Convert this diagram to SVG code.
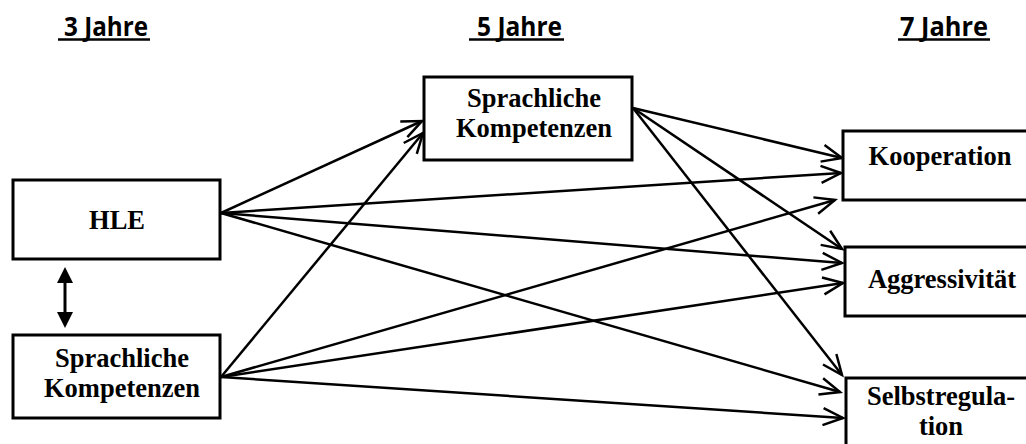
<svg xmlns="http://www.w3.org/2000/svg" width="1026" height="444" viewBox="0 0 1026 444">
  <defs>
    <style>
      .box { fill: #fff; stroke: #000; stroke-width: 3; }
      .lbl { font-family: "Liberation Serif", "Times New Roman", serif; font-weight: bold; font-size: 26.5px; fill: #000; text-anchor: middle; }
      .hdr { font-family: "Open Sans", "Liberation Sans", sans-serif; font-weight: bold; font-size: 27px; fill: #000; }
      .ul { stroke: #000; stroke-width: 2.5; }
      .edge { stroke: #000; stroke-width: 2.5; fill: none; marker-end: url(#vhead); }
    </style>
    <marker id="vhead" viewBox="-24 -12 28 24" markerWidth="28" markerHeight="24" refX="0" refY="0" orient="auto" markerUnits="userSpaceOnUse">
      <path d="M-20,-8.5 L0,0 L-20,8.5" fill="none" stroke="#000" stroke-width="2.5" stroke-linejoin="miter"/>
    </marker>
  </defs>
  <rect width="1026" height="444" fill="#fff"/>

  <!-- time-point headings -->
  <g id="headings">
    <text class="hdr" x="64" y="36" textLength="84" lengthAdjust="spacingAndGlyphs">3 Jahre</text>
    <line class="ul" x1="58" y1="39.5" x2="150" y2="39.5"/>
    <text class="hdr" x="477" y="36" textLength="85" lengthAdjust="spacingAndGlyphs">5 Jahre</text>
    <line class="ul" x1="469" y1="39.5" x2="564" y2="39.5"/>
    <text class="hdr" x="900" y="36" textLength="88" lengthAdjust="spacingAndGlyphs">7 Jahre</text>
    <line class="ul" x1="898" y1="39.5" x2="990" y2="39.5"/>
  </g>

  <!-- paths between the constructs -->
  <g id="connectors">
    <line class="edge" x1="221" y1="213" x2="422" y2="121"/>
    <line class="edge" x1="221" y1="213" x2="841" y2="173"/>
    <line class="edge" x1="221" y1="213" x2="842" y2="263"/>
    <line class="edge" x1="221" y1="213" x2="840" y2="392"/>
    <line class="edge" x1="221" y1="377" x2="423" y2="133"/>
    <line class="edge" x1="221" y1="377" x2="835" y2="200"/>
    <line class="edge" x1="221" y1="377" x2="843" y2="283"/>
    <line class="edge" x1="221" y1="377" x2="843" y2="418"/>
    <line class="edge" x1="633" y1="108" x2="842" y2="158"/>
    <line class="edge" x1="633" y1="108" x2="842" y2="249"/>
    <line class="edge" x1="633" y1="108" x2="842" y2="375"/>
    <!-- correlation between the two age-3 measures -->
    <g id="correlation">
      <line x1="65" y1="280" x2="65" y2="315" stroke="#000" stroke-width="3"/>
      <polygon points="65,267 57,283 73,283" fill="#000"/>
      <polygon points="65,328 57,312 73,312" fill="#000"/>
    </g>
  </g>

  <g id="hle">
    <rect class="box" x="13" y="180" width="207" height="79"/>
    <text class="lbl" x="117" y="229">HLE</text>
  </g>

  <g id="sprache3">
    <rect class="box" x="13" y="335" width="207" height="83"/>
    <text class="lbl" x="122" y="367">Sprachliche</text>
    <text class="lbl" x="122" y="397">Kompetenzen</text>
  </g>

  <g id="sprache5">
    <rect class="box" x="424" y="77" width="208" height="83"/>
    <text class="lbl" x="534" y="107">Sprachliche</text>
    <text class="lbl" x="534" y="137">Kompetenzen</text>
  </g>

  <g id="kooperation">
    <rect class="box" x="843" y="131" width="200" height="69"/>
    <text class="lbl" x="940" y="165">Kooperation</text>
  </g>

  <g id="aggressivitaet">
    <rect class="box" x="845" y="247" width="200" height="69"/>
    <text class="lbl" x="942" y="288">Aggressivität</text>
  </g>

  <g id="selbstregulation">
    <rect class="box" x="846" y="378" width="200" height="80"/>
    <text class="lbl" x="941" y="405">Selbstregula-</text>
    <text class="lbl" x="941" y="435">tion</text>
  </g>
</svg>
